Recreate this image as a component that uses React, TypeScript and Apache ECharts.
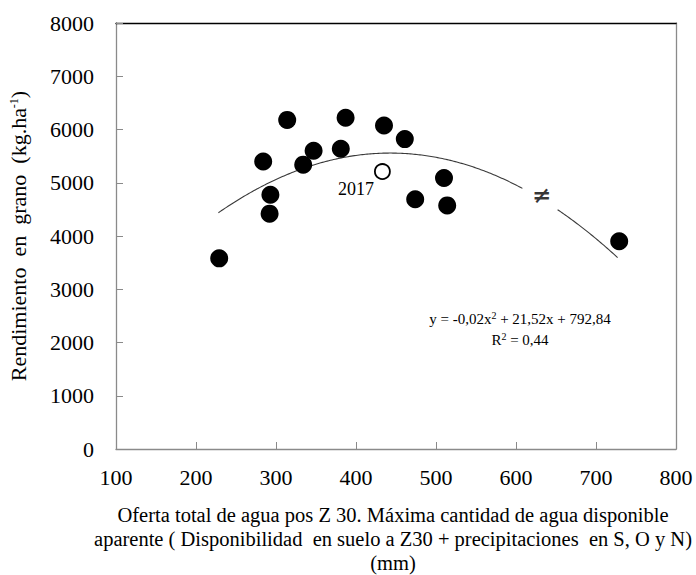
import React, { useEffect, useRef } from "react";
import * as echarts from "echarts";

// Water supply after Z30 (mm) and grain yield (kg/ha) for each season
const waterSupply = [229, 284, 293, 292, 314, 334, 347, 381, 387, 435, 461, 474, 510, 514, 729];
const grainYield = [3580, 5400, 4775, 4420, 6180, 5340, 5600, 5640, 6220, 6075, 5820, 4690, 5090, 4575, 3900];

// Season shown apart (open marker)
const highlightSeason = "2017";
const highlightWater = [433];
const highlightYield = [5210];

// Quadratic fit of yield on water supply
const fitA = -0.0243;
const fitB = 21.52;
const fitC = 792.84;
const fitR2 = 0.44;
const fitRange = [228, 727];
const fitBreak = [608, 652]; // interrupted where the "not equal" mark sits
const notEqualAt = [632, 4770];

const xTicks = { min: 100, max: 800, step: 100 };
const yTicks = { min: 0, max: 8000, step: 1000 };

const SERIF = "Liberation Serif";
const AXIS_GREY = "#8a8a8a";

const fitValue = (x: number) => fitA * x * x + fitB * x + fitC;
const comma = (v: number) => v.toFixed(2).replace(".", ",");

function fitSegment(from: number, to: number): number[][] {
  const pts: number[][] = [];
  for (let x = from; x < to; x += 2) pts.push([x, fitValue(x)]);
  pts.push([to, fitValue(to)]);
  return pts;
}

export default function App() {
  const ref = useRef<HTMLDivElement>(null);

  useEffect(() => {
    document.body.style.margin = "0";
    if (!ref.current) return;
    const chart = echarts.init(ref.current, null, { renderer: "svg" });

    const points = waterSupply.map((x, i) => [x, grainYield[i]]);
    const openPoints = highlightWater.map((x, i) => [x, highlightYield[i]]);

    const sup = { fontSize: 12, fontFamily: SERIF, color: "#000", padding: [0, 0, 9, 0] };
    const eqSup = { fontSize: 10, fontFamily: SERIF, color: "#000", padding: [0, 0, 6, 0] };

    chart.setOption({
      animation: false,
      backgroundColor: "#fff",
      textStyle: { fontFamily: SERIF },
      grid: { left: 116, right: 20, top: 23, bottom: 126, show: false, outerBoundsMode: "none" },
      xAxis: [
        {
          type: "value",
          min: xTicks.min,
          max: xTicks.max,
          interval: xTicks.step,
          name:
            "Oferta total de agua pos Z 30. Máxima cantidad de agua disponible\naparente ( Disponibilidad  en suelo a Z30 + precipitaciones  en S, O y N)\n(mm)",
          nameLocation: "middle",
          nameGap: 54,
          nameTextStyle: {
            fontFamily: SERIF,
            fontSize: 20.5,
            color: "#000",
            lineHeight: 24,
            padding: [0, 6, 0, 0],
          },
          axisLine: { show: true, onZero: false, lineStyle: { color: AXIS_GREY, width: 1.3 } },
          axisTick: { show: true, inside: true, length: 7, lineStyle: { color: AXIS_GREY } },
          axisLabel: { fontFamily: SERIF, fontSize: 22, color: "#000", margin: 17 },
          splitLine: { show: false },
        },
        {
          type: "value",
          position: "top",
          min: xTicks.min,
          max: xTicks.max,
          axisLine: { show: true, onZero: false, lineStyle: { color: "#000", width: 1.3 } },
          axisTick: { show: false },
          axisLabel: { show: false },
          splitLine: { show: false },
        },
      ],
      yAxis: [
        {
          type: "value",
          min: yTicks.min,
          max: yTicks.max,
          interval: yTicks.step,
          name: "Rendimiento  en  grano  (kg.ha{sup|-1})",
          nameLocation: "middle",
          nameGap: 87,
          nameRotate: 90,
          nameTextStyle: { fontFamily: SERIF, fontSize: 22, color: "#000", rich: { sup } },
          axisLine: { show: true, onZero: false, lineStyle: { color: AXIS_GREY, width: 1.3 } },
          axisTick: { show: true, inside: true, length: 7, lineStyle: { color: AXIS_GREY } },
          axisLabel: {
            fontFamily: SERIF,
            fontSize: 22,
            color: "#000",
            margin: 22,
            formatter: (v: number) => String(v),
          },
          splitLine: { show: false },
        },
        {
          type: "value",
          position: "right",
          min: yTicks.min,
          max: yTicks.max,
          axisLine: { show: true, onZero: false, lineStyle: { color: AXIS_GREY, width: 1.3 } },
          axisTick: { show: false },
          axisLabel: { show: false },
          splitLine: { show: false },
        },
      ],
      series: [
        {
          type: "line",
          data: fitSegment(fitRange[0], fitBreak[0]),
          showSymbol: false,
          symbol: "none",
          lineStyle: { color: "#3a3a3a", width: 1.1 },
          silent: true,
          z: 1,
        },
        {
          type: "line",
          data: fitSegment(fitBreak[1], fitRange[1]),
          showSymbol: false,
          symbol: "none",
          lineStyle: { color: "#3a3a3a", width: 1.1 },
          silent: true,
          z: 1,
        },
        {
          type: "scatter",
          data: points,
          symbol: "circle",
          symbolSize: 18,
          itemStyle: { color: "#000", opacity: 1 },
          silent: true,
          z: 3,
        },
        {
          type: "scatter",
          data: openPoints,
          symbol: "circle",
          symbolSize: 15,
          itemStyle: { color: "#fff", borderColor: "#000", borderWidth: 1.8, opacity: 1 },
          label: {
            show: true,
            formatter: highlightSeason,
            position: [-18, 26],
            align: "center",
            verticalAlign: "middle",
            fontFamily: SERIF,
            fontSize: 18,
            color: "#000",
          },
          silent: true,
          z: 3,
        },
        {
          type: "scatter",
          data: [notEqualAt],
          symbolSize: 1,
          itemStyle: { color: "rgba(0,0,0,0)" },
          label: {
            show: true,
            formatter: "≠",
            position: "inside",
            fontFamily: "DejaVu Serif",
            fontWeight: "bold",
            fontSize: 23,
            color: "#000",
          },
          silent: true,
          z: 3,
        },
      ],
      graphic: [
        {
          type: "text",
          x: 520,
          y: 308,
          style: {
            text: `y = ${comma(fitA)}x{s|2} + ${comma(fitB)}x + ${comma(fitC)}\nR{s|2} = ${comma(fitR2)}`,
            align: "center",
            fontFamily: SERIF,
            fontSize: 15,
            lineHeight: 21,
            fill: "#000",
            rich: { s: eqSup },
          },
        },
      ],
    });

    return () => chart.dispose();
  }, []);

  return <div ref={ref} style={{ width: 696, height: 575 }} />;
}
